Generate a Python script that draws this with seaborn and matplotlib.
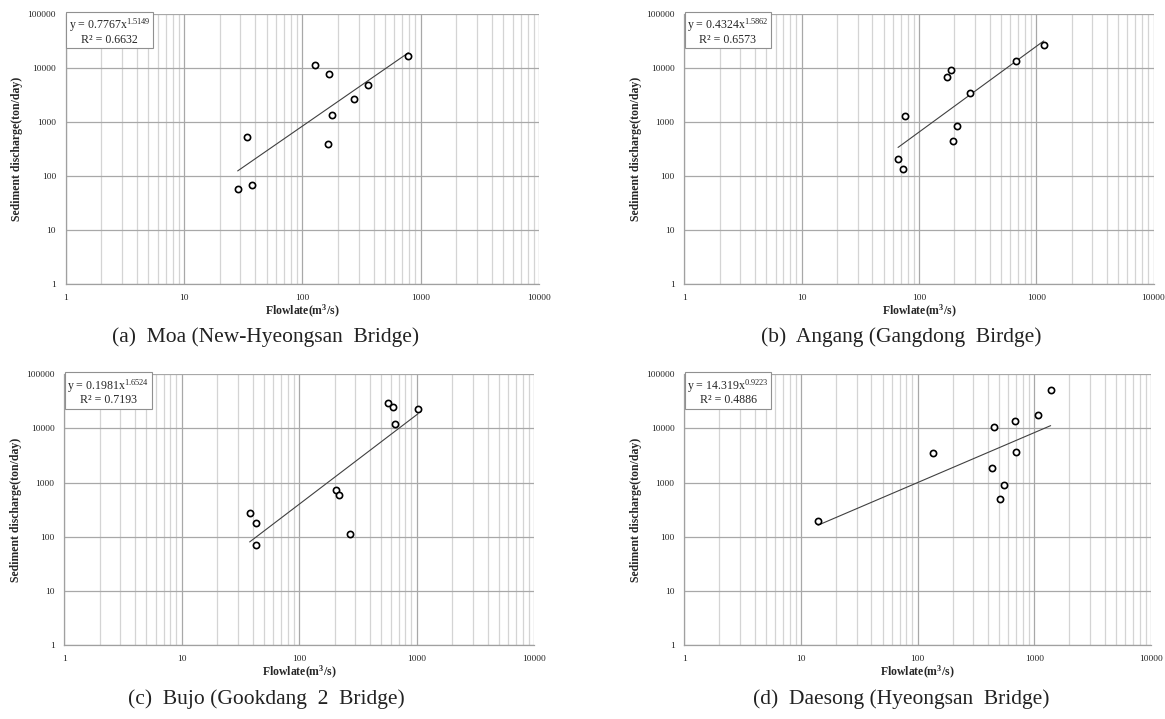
import numpy as np
import pandas as pd
import matplotlib
matplotlib.use("Agg")
import matplotlib.pyplot as plt
import matplotlib.ticker as mticker
import seaborn as sns

# ---- data: flow rate (m3/s) vs sediment discharge (ton/day) ----
moa_q = [28.4, 34.3, 37.6, 127, 169, 166, 179, 273, 357, 787]
moa_qs = [56, 521, 68, 11170, 7520, 392, 1350, 2660, 4900, 16600]
moa_a, moa_b, moa_r2 = 0.7767, 1.5149, 0.6632

angang_q = [66.4, 73.2, 76.6, 175, 189, 196, 212, 273, 677, 1159]
angang_qs = [202, 132, 1260, 6700, 8900, 445, 832, 3350, 13400, 26500]
angang_a, angang_b, angang_r2 = 0.4324, 1.5862, 0.6573

bujo_q = [37.8, 42.8, 42.8, 204, 219, 272, 565, 631, 656, 1024]
bujo_qs = [275, 180, 70.5, 724, 600, 113, 30100, 24800, 12300, 23300]
bujo_a, bujo_b, bujo_r2 = 0.1981, 1.6524, 0.7193

daesong_q = [14.0, 135, 453, 433, 549, 510, 682, 696, 1080, 1380]
daesong_qs = [198, 3540, 10800, 1845, 918, 493, 14000, 3650, 17800, 50900]
daesong_a, daesong_b, daesong_r2 = 14.319, 0.9223, 0.4886

captions = ["(a)  Moa (New-Hyeongsan  Bridge)",
            "(b)  Angang (Gangdong  Birdge)",
            "(c)  Bujo (Gookdang  2  Bridge)",
            "(d)  Daesong (Hyeongsan  Bridge)"]

x_ticks = [1, 10, 100, 1000, 10000]
y_ticks = [1, 10, 100, 1000, 10000, 100000]

sns.set_style("white")
plt.rcParams["font.family"] = ["Liberation Serif", "DejaVu Serif"]
plt.rcParams["mathtext.fontset"] = "custom"
plt.rcParams["mathtext.rm"] = "Liberation Serif"
plt.rcParams["mathtext.it"] = "Liberation Serif:italic"
plt.rcParams["mathtext.bf"] = "Liberation Serif:bold"

W, H = 1165, 719
fig = plt.figure(figsize=(W / 100, H / 100), dpi=100)


def px_axes(l, t, r, b):
    return fig.add_axes([l / W, 1 - b / H, (r - l) / W, (b - t) / H])


boxes = [(65.7, 13.7, 539, 284), (684.3, 13.7, 1153.5, 284),
         (64.3, 374.3, 534.3, 645), (684.3, 374.3, 1151, 645)]
series = [(moa_q, moa_qs, moa_a, moa_b, moa_r2),
          (angang_q, angang_qs, angang_a, angang_b, angang_r2),
          (bujo_q, bujo_qs, bujo_a, bujo_b, bujo_r2),
          (daesong_q, daesong_qs, daesong_a, daesong_b, daesong_r2)]
cap_pos = [(266, 337), (901, 337), (266, 699), (901, 699)]

for box, (q, qs, a, b, r2), cap, cp in zip(boxes, series, captions, cap_pos):
    ax = px_axes(*box)
    ax.set_xscale("log")
    ax.set_yscale("log")
    ax.set_xlim(1, 10000)
    ax.set_ylim(1, 100000)

    # grid: x major + minor, y major only
    ax.xaxis.set_major_locator(mticker.FixedLocator(x_ticks))
    ax.xaxis.set_minor_locator(mticker.LogLocator(base=10, subs=np.arange(2, 10)))
    ax.yaxis.set_major_locator(mticker.FixedLocator(y_ticks))
    ax.yaxis.set_minor_locator(mticker.NullLocator())
    ax.xaxis.set_major_formatter(mticker.FuncFormatter(lambda v, p: f"{int(round(v))}"))
    ax.yaxis.set_major_formatter(mticker.FuncFormatter(lambda v, p: f"{int(round(v))}"))
    ax.xaxis.set_minor_formatter(mticker.NullFormatter())
    ax.grid(which="major", axis="both", color="#a8a8a8", lw=0.9)
    ax.grid(which="minor", axis="x", color="#d4d4d4", lw=0.9)
    ax.set_axisbelow(True)
    for side in ["top", "right"]:
        ax.spines[side].set_visible(False)
    for side in ["left", "bottom"]:
        ax.spines[side].set_color("#a0a0a0")
        ax.spines[side].set_linewidth(0.9)
    ax.tick_params(which="major", length=3, width=0.8, color="#a0a0a0",
                   labelsize=6.8, pad=4)
    ax.tick_params(which="minor", length=0)

    # power-law trend line over the observed flow range
    xf = np.logspace(np.log10(min(q)), np.log10(max(q)), 50)
    fit = pd.DataFrame({"q": xf, "qs": a * xf ** b})
    sns.lineplot(data=fit, x="q", y="qs", ax=ax, color="#404040", lw=0.8)

    pts = pd.DataFrame({"q": q, "qs": qs})
    sns.scatterplot(data=pts, x="q", y="qs", ax=ax, marker="o", s=20,
                    facecolor="white", edgecolor="black", linewidth=1.2, zorder=5)

    ax.set_xlabel("Flowlate(m$^{\\mathbf{3}}$/s)", fontsize=8.5, fontweight="bold")
    ax.set_ylabel("Sediment discharge(ton/day)", fontsize=8.5, fontweight="bold")
    ax.xaxis.set_label_coords(0.5, -0.102)
    ax.xaxis.label.set_va("center")
    ax.yaxis.set_label_coords(-0.103, 0.5)
    ax.yaxis.label.set_va("center")

    eq = f"y = {a}x$^{{\\mathrm{{{b:.4f}}}}}$\nR² = {r2:.4f}"
    ax.text(0.006, 0.99, eq, transform=ax.transAxes, ha="left", va="top",
            fontsize=8.6, linespacing=0.95, multialignment="center",
            bbox=dict(boxstyle="square,pad=0.2", facecolor="white",
                      edgecolor="#909090", lw=0.8), zorder=6)

    fig.text(cp[0] / W, 1 - cp[1] / H, cap, ha="center", va="center",
             fontsize=15.5, color="#222222")

fig.savefig("out.png", dpi=100, facecolor="white")
